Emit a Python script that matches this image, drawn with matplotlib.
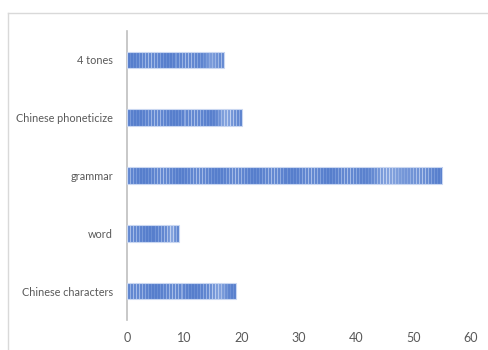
import numpy as np
import matplotlib.pyplot as plt
from matplotlib.colors import LinearSegmentedColormap
from matplotlib.lines import Line2D

categories = ["Chinese characters", "word", "grammar", "Chinese phoneticize", "4 tones"]
values = [19, 9, 55, 20, 17]
x_ticks = [0, 10, 20, 30, 40, 50, 60]

plt.rcParams["font.family"] = ["Lato", "DejaVu Sans"]

fig = plt.figure(figsize=(4.88, 3.5), dpi=100)
ax = fig.add_axes([127 / 488, 1 - 320 / 350, 344 / 488, 289 / 350])

# stripe colormap, mid blue -> pale blue
cmap = LinearSegmentedColormap.from_list("stripes", ["#4570c6", "#7f9fdc", "#c0d0f0"])

bar_h = 0.29
px_per_unit = 344 / 60
for i, v in enumerate(values):
    npx = int(v * px_per_unit)
    cols = np.arange(npx)
    # thin stripes (~3 px period) whose contrast drifts along the bar
    stripe = 0.5 + 0.5 * np.cos(2 * np.pi * cols / 3.0)
    drift = 0.45 + 0.25 * np.sin(2 * np.pi * cols / 37.0 + i)
    pos = cols / max(npx, 1)
    band = np.exp(-((pos - 0.85) / 0.07) ** 2) * 0.3
    shade = np.clip(0.1 + stripe * drift + band, 0, 1)
    img = np.tile(shade, (4, 1))
    bar = ax.barh(i, v, height=bar_h, color="none", edgecolor="#c9d7f1",
                  linewidth=0.8, zorder=3)[0]
    im = ax.imshow(img, cmap=cmap, vmin=0, vmax=1, aspect="auto",
                   extent=[0, v, i - bar_h / 2, i + bar_h / 2],
                   interpolation="nearest", zorder=2)
    im.set_clip_path(bar)

ax.set_xlim(0, 60)
ax.set_ylim(-0.5, len(categories) - 0.5)
ax.set_aspect("auto")
ax.set_yticks(range(len(categories)))
ax.set_yticklabels(categories)
ax.set_xticks(x_ticks)
ax.tick_params(axis="both", length=0, colors="#595959")
ax.tick_params(axis="y", labelsize=7.8, pad=10)
ax.tick_params(axis="x", labelsize=9, pad=9)

for s in ["top", "right", "bottom"]:
    ax.spines[s].set_visible(False)
ax.spines["left"].set_color("#bfbfbf")
ax.spines["left"].set_linewidth(1.2)

# chart frame (partially cut off by the image edge)
x0, y0 = 8 / 488, 1 - 13 / 350
fig.add_artist(Line2D([x0, x0], [0, y0], color="#d9d9d9", lw=1, transform=fig.transFigure))
fig.add_artist(Line2D([x0, 487 / 488], [y0, y0], color="#d9d9d9", lw=1, transform=fig.transFigure))

fig.savefig("out.png", dpi=100)
